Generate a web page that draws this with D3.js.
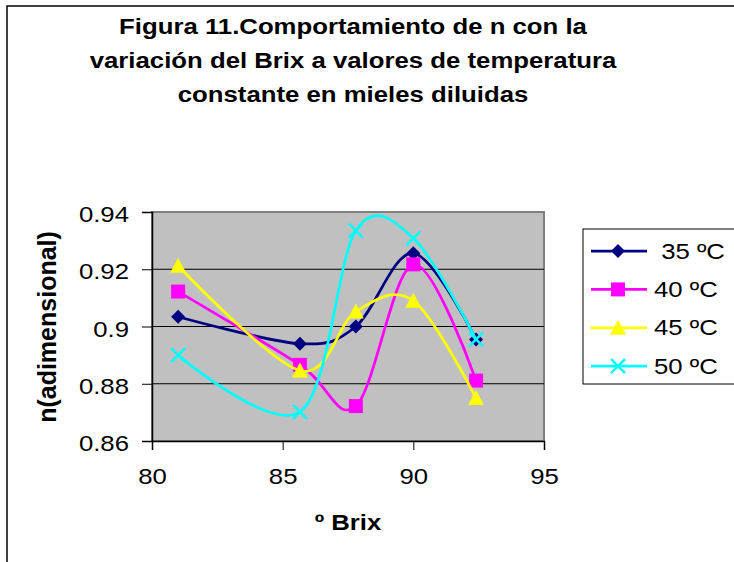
<!DOCTYPE html>
<html>
<head>
<meta charset="utf-8">
<script src="https://cdn.jsdelivr.net/npm/d3@7"></script>
<style>
  html, body { margin: 0; padding: 0; background: #fff; }
  svg { display: block; }
  text { font-family: "Liberation Sans", Arial, sans-serif; fill: #000; }
</style>
</head>
<body>
<svg id="chart" width="734" height="562"></svg>
<script>
// ---- data ----
const titleLines = ["Figura 11.Comportamiento de n con la",
                    "variación del Brix a valores de temperatura",
                    "constante en mieles diluidas"];
const xTitle = "º Brix";
const yTitle = "n(adimensional)";
const brix = [81, 85.66, 87.8, 90, 92.4];
const seriesNames = [" 35 ºC", "40 ºC", "45 ºC", "50 ºC"];
const s35 = [0.9034, 0.8940, 0.9000, 0.9256, 0.8955];
const s40 = [0.9122, 0.8866, 0.8722, 0.9217, 0.8811];
const s45 = [0.9212, 0.8846, 0.9052, 0.9090, 0.8750];
const s50 = [0.8900, 0.8702, 0.9335, 0.9308, 0.8955];
const xTicks = [80, 85, 90, 95];
const yTicks = [0.86, 0.88, 0.90, 0.92, 0.94];
const yTickLabels = ["0.86", "0.88", "0.9", "0.92", "0.94"];
const colors = ["#000080", "#FF00FF", "#FFFF00", "#00FFFF"];
const markers = ["diamond", "square", "triangle", "cross"];

// ---- layout ----
const SX = 1.12;   // horizontal stretch of the text in the reference
const FS = 23;
const svg = d3.select("#chart");
const plot = { left: 152, right: 544, top: 212, bottom: 441 };
const x = d3.scaleLinear().domain([80, 95]).range([plot.left, plot.right]);
const y = d3.scaleLinear().domain([0.86, 0.94]).range([plot.bottom, plot.top]);

function stretch(sel) {
  sel.each(function () {
    const t = d3.select(this);
    const xx = +t.attr("x") || 0, yy = +t.attr("y") || 0;
    t.attr("x", 0).attr("y", 0).attr("transform", `translate(${xx},${yy}) scale(${SX},1)`);
  });
}

// chart border
svg.append("rect").attr("x", 7).attr("y", 6).attr("width", 800).attr("height", 700)
  .attr("fill", "#fff").attr("stroke", "#000").attr("stroke-width", 1.5);

// title
const tg = svg.append("g");
titleLines.forEach((t, i) => {
  tg.append("text").attr("x", 353).attr("y", 34 + i * 34)
    .attr("text-anchor", "middle").attr("font-weight", "bold")
    .attr("font-size", FS).text(t);
});
stretch(tg.selectAll("text"));

// plot area
svg.append("rect").attr("x", plot.left).attr("y", plot.top)
  .attr("width", plot.right - plot.left).attr("height", plot.bottom - plot.top)
  .attr("fill", "#C0C0C0").attr("stroke", "#808080").attr("stroke-width", 2);

// gridlines
svg.append("g").selectAll("line").data(yTicks.filter(d => d > 0.86 && d < 0.94)).join("line")
  .attr("x1", plot.left).attr("x2", plot.right)
  .attr("y1", d => y(d)).attr("y2", d => y(d))
  .attr("stroke", "#000").attr("stroke-width", 1);

// axes
const yAxis = d3.axisLeft(y).tickValues(yTicks).tickSize(10).tickPadding(13)
  .tickFormat((d, i) => yTickLabels[i]);
const ya = svg.append("g").attr("transform", `translate(${plot.left},0)`).call(yAxis);
const xAxis = d3.axisBottom(x).tickValues(xTicks).tickSize(9).tickPadding(18);
const xa = svg.append("g").attr("transform", `translate(0,${plot.bottom})`).call(xAxis);
[ya, xa].forEach(a => {
  a.select(".domain").attr("stroke", "#000").attr("stroke-width", 1.5);
  a.selectAll(".tick line").attr("stroke", "#000").attr("stroke-width", 1);
  a.selectAll("text").attr("font-family", "Liberation Sans, Arial, sans-serif")
    .attr("font-size", FS).attr("fill", "#000");
  stretch(a.selectAll("text"));
});
ya.selectAll("text").attr("dy", "0.42em");

// axis titles
const xt = svg.append("text").attr("x", 348).attr("y", 530).attr("text-anchor", "middle")
  .attr("font-weight", "bold").attr("font-size", FS).text(xTitle);
stretch(xt);
svg.append("text").attr("transform", "translate(56,327) rotate(-90)")
  .attr("text-anchor", "middle").attr("font-weight", "bold").attr("font-size", 25).text(yTitle);

// marker drawing
function drawMarker(g, type, color, cx, cy) {
  if (type === "diamond") {
    g.append("path").attr("d", `M${cx},${cy-7}L${cx+7},${cy}L${cx},${cy+7}L${cx-7},${cy}Z`).attr("fill", color);
  } else if (type === "square") {
    g.append("rect").attr("x", cx - 7).attr("y", cy - 7).attr("width", 14).attr("height", 14).attr("fill", color);
  } else if (type === "triangle") {
    g.append("path").attr("d", `M${cx},${cy-8}L${cx+8},${cy+7}L${cx-8},${cy+7}Z`).attr("fill", color);
  } else {
    g.append("path").attr("d", `M${cx-7},${cy-7}L${cx+7},${cy+7}M${cx+7},${cy-7}L${cx-7},${cy+7}`)
      .attr("stroke", color).attr("stroke-width", 2.5).attr("fill", "none");
  }
}

const allSeries = [s35, s40, s45, s50];
const line = d3.line().x(d => x(d[0])).y(d => y(d[1])).curve(d3.curveCatmullRom.alpha(0));
allSeries.forEach((vals, si) => {
  const pts = brix.map((b, i) => [b, vals[i]]);
  const g = svg.append("g");
  g.append("path").attr("d", line(pts)).attr("fill", "none")
    .attr("stroke", colors[si]).attr("stroke-width", 2.75);
  pts.forEach(p => drawMarker(g, markers[si], colors[si], x(p[0]), y(p[1])));
});

// legend
const lg = svg.append("g");
lg.append("rect").attr("x", 583).attr("y", 229).attr("width", 200).attr("height", 155)
  .attr("fill", "#fff").attr("stroke", "#000").attr("stroke-width", 1);
seriesNames.forEach((n, i) => {
  const cy = 251 + i * 38.4;
  lg.append("line").attr("x1", 591).attr("x2", 647).attr("y1", cy).attr("y2", cy)
    .attr("stroke", colors[i]).attr("stroke-width", 2.75);
  drawMarker(lg, markers[i], colors[i], 618, cy);
  const t = lg.append("text").attr("x", 654).attr("y", cy + 7.6).attr("font-size", FS)
    .attr("xml:space", "preserve").style("white-space", "pre").text(n);
  stretch(t);
});
</script>
</body>
</html>
